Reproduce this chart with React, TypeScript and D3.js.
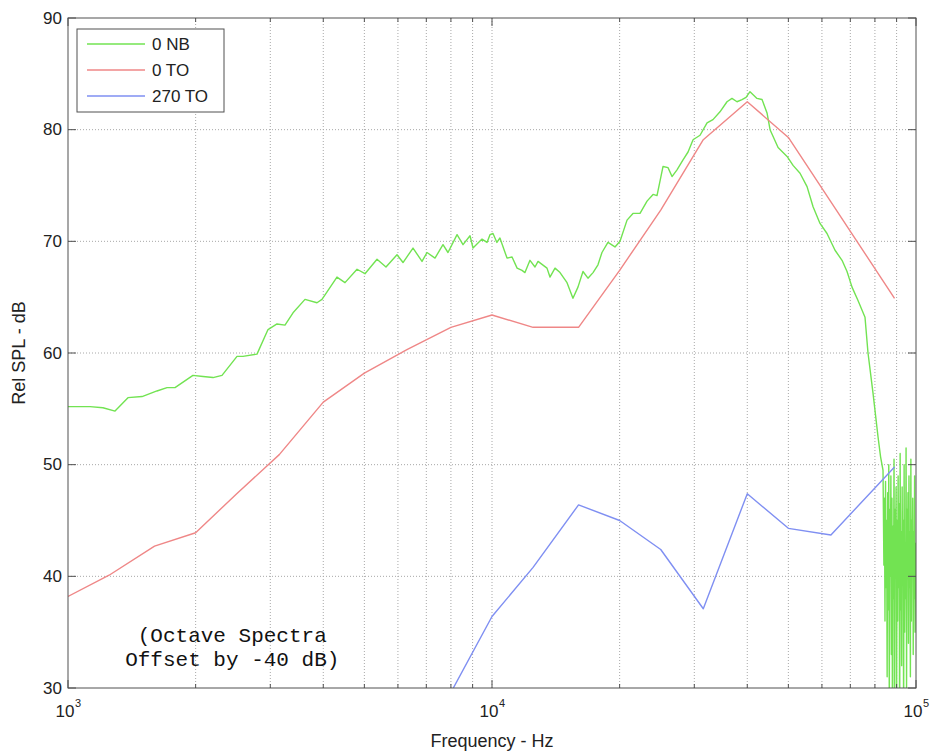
import React from "react";
import * as d3 from "d3";

// 0 NB (narrowband)
const nbFreq = [
  1000, 1127, 1209, 1291, 1385, 1495, 1621, 1712, 1788, 1971, 2082, 2198, 2308, 2504, 2587, 2791,
  2963, 3111, 3249, 3394, 3622, 3866, 3972, 4309, 4501, 4805, 5017, 5356, 5623, 5970, 6168, 6512,
  6838, 7026, 7338, 7663, 7874, 8271, 8544, 8875, 9020, 9472, 9732, 9892, 10055, 10270, 10440,
  10850, 11150, 11460, 11770, 11960, 12290, 12630, 12840, 13480, 13700, 14080, 14470, 15030, 15520,
  15950, 16390, 16840, 17310, 17780, 18170, 18770, 19500, 20040, 20820, 21500, 22340, 23210, 23980,
  24500, 25310, 26010, 26580, 27310, 28220, 29000, 29800, 30950, 32150, 33200, 34490, 35830, 36810,
  37830, 38870, 39730, 40600, 42170, 43340, 44530, 45270, 47280, 49650, 51290, 53270, 55340, 57180,
  59380, 61680, 64420, 66920, 68760, 70650, 72980, 75810, 77060, 79180, 81360, 82500, 83600,
  84000, 84250, 84500, 84750, 85000, 85250, 85500, 85750, 86000, 86250, 86500, 86750, 87000, 87250,
  87500, 87750, 88000, 88250, 88500, 88750, 89000, 89250, 89500, 89750, 90000, 90250, 90500, 90750,
  91000, 91250, 91500, 91750, 92000, 92250, 92500, 92750, 93000, 93250, 93500, 93750, 94000, 94250,
  94500, 94750, 95000, 95250, 95500, 95750, 96000, 96250, 96500, 96750, 97000, 97250, 97500, 97750,
  98000, 98250, 98500, 98750, 99000, 99250, 99500, 99750, 100000,
];
const nbDb = [
  55.2, 55.2, 55.1, 54.8, 56.0, 56.1, 56.6, 56.9, 56.9, 58.0, 57.9, 57.8, 58.0, 59.7, 59.7, 59.9,
  62.1, 62.6, 62.5, 63.6, 64.8, 64.5, 64.8, 66.8, 66.3, 67.5, 67.1, 68.4, 67.7, 68.8, 68.1, 69.4,
  68.2, 69.0, 68.5, 69.7, 69.0, 70.6, 69.7, 70.5, 69.4, 70.2, 69.9, 70.6, 70.7, 69.9, 70.3,
  68.5, 68.6, 67.6, 67.4, 67.2, 68.3, 67.7, 68.2, 67.6, 66.8, 67.6, 67.2, 66.3, 64.9,
  65.9, 67.3, 66.7, 67.2, 67.9, 69.0, 69.9, 69.5, 70.0, 71.9, 72.5, 72.5, 73.6, 74.2,
  74.1, 76.7, 76.6, 75.8, 76.4, 77.3, 78.0, 79.1, 79.5, 80.6, 80.9, 81.6, 82.5, 82.8,
  82.5, 82.7, 82.9, 83.4, 82.8, 82.7, 81.5, 80.0, 78.4, 77.6, 76.8, 76.1, 74.9,
  73.1, 71.6, 70.7, 69.2, 68.3, 67.3, 65.9, 64.7, 63.2, 60.0, 56.4, 52.5, 50.7,
  49.5, 41, 47, 36, 48.5, 39, 45, 31, 47.5, 37, 50, 28, 46, 40,
  49, 33, 47, 25, 44.5, 38, 50.5, 29, 46, 41, 48, 27, 45, 36,
  49, 39, 46.5, 24, 51, 37, 44, 32, 48, 40, 45, 27, 50, 35,
  43, 38, 51.5, 30, 46, 41, 47.5, 34, 49, 39, 44, 31, 50.5, 36,
  45, 40, 47, 33, 44, 38, 49, 35, 43,
];

// octave spectra, offset by -40 dB
const toFreq = [
  1000, 1250, 1600, 2000, 2500, 3150, 4000, 5000, 6300, 8000, 10000, 12500, 16000, 20000, 25000,
  31500, 40000, 50000, 89000,
];
const to0Db = [
  38.2, 40.1, 42.7, 43.9, 47.4, 50.9, 55.6, 58.2, 60.3, 62.3, 63.4, 62.3, 62.3, 67.4, 72.8, 79.1,
  82.5, 79.3, 64.9,
];
const to270Freq = [8000, 10000, 12500, 16000, 20000, 25000, 31500, 40000, 50000, 63000, 89000];
const to270Db = [29.6, 36.4, 40.8, 46.4, 45.0, 42.4, 37.1, 47.4, 44.3, 43.7, 49.8];

const yTicks = [30, 40, 50, 60, 70, 80, 90];
const decades = [3, 4, 5];
const noteLines = ["(Octave Spectra", "Offset by -40 dB)"];

const series = [
  { name: "0 NB", freq: nbFreq, db: nbDb, color: "#72e352" },
  { name: "0 TO", freq: toFreq, db: to0Db, color: "#ef8787" },
  { name: "270 TO", freq: to270Freq, db: to270Db, color: "#7f8ff2" },
];

const W = 933;
const H = 754;
const margin = { left: 68, right: 17, top: 18, bottom: 66 };
const font = "'Liberation Sans', Arial, Helvetica, sans-serif";

export default function App() {
  const iw = W - margin.left - margin.right;
  const ih = H - margin.top - margin.bottom;

  const x = d3.scaleLog().domain([1e3, 1e5]).range([0, iw]);
  const y = d3.scaleLinear().domain([30, 90]).range([ih, 0]);

  const minor: number[] = [];
  for (let d = 3; d < 5; d++) {
    for (let k = 2; k <= 9; k++) minor.push(k * Math.pow(10, d));
  }

  const line = d3
    .line<[number, number]>()
    .x((d) => x(d[0]))
    .y((d) => y(d[1]));

  const axisColor = "#505050";
  const gridColor = "#a8a8a8";
  const noteX = x(2440);

  return (
    <svg
      width={W}
      height={H}
      style={{ position: "absolute", left: 0, top: 0, background: "#fff" }}
      fontFamily={font}
    >
      <defs>
        <clipPath id="plot">
          <rect x={0} y={0} width={iw} height={ih} />
        </clipPath>
      </defs>
      <g transform={`translate(${margin.left},${margin.top})`}>
        {/* grid */}
        {[...minor, 1e4].map((f) => (
          <line
            key={"gx" + f}
            x1={x(f)}
            x2={x(f)}
            y1={0}
            y2={ih}
            stroke={gridColor}
            strokeDasharray="1 2"
          />
        ))}
        {yTicks.slice(1, -1).map((v) => (
          <line
            key={"gy" + v}
            x1={0}
            x2={iw}
            y1={y(v)}
            y2={y(v)}
            stroke={gridColor}
            strokeDasharray="1 2"
          />
        ))}

        {/* data */}
        <g clipPath="url(#plot)">
          {series.map((s) => (
            <path
              key={s.name}
              d={line(s.freq.map((f, i) => [f, s.db[i]] as [number, number])) || ""}
              fill="none"
              stroke={s.color}
              strokeWidth={1.4}
              strokeLinejoin="round"
            />
          ))}
        </g>

        {/* frame */}
        <rect x={0} y={0} width={iw} height={ih} fill="none" stroke={axisColor} strokeWidth={1} />

        {/* ticks */}
        {yTicks.map((v) => (
          <g key={"ty" + v}>
            <line x1={0} x2={8} y1={y(v)} y2={y(v)} stroke={axisColor} />
            <line x1={iw - 8} x2={iw} y1={y(v)} y2={y(v)} stroke={axisColor} />
            <text
              x={-6}
              y={y(v)}
              textAnchor="end"
              dominantBaseline="central"
              fontSize={17}
              fill="#222"
            >
              {v}
            </text>
          </g>
        ))}
        {minor.map((f) => (
          <g key={"tm" + f}>
            <line x1={x(f)} x2={x(f)} y1={ih} y2={ih - 4} stroke={axisColor} />
            <line x1={x(f)} x2={x(f)} y1={0} y2={4} stroke={axisColor} />
          </g>
        ))}
        {decades.map((d) => (
          <g key={"td" + d}>
            <line x1={x(10 ** d)} x2={x(10 ** d)} y1={ih} y2={ih - 8} stroke={axisColor} />
            <line x1={x(10 ** d)} x2={x(10 ** d)} y1={0} y2={8} stroke={axisColor} />
            <text x={x(10 ** d) - 3} y={ih + 29} textAnchor="middle" fontSize={17} fill="#222">
              10
            </text>
            <text x={x(10 ** d) + 10} y={ih + 19} textAnchor="middle" fontSize={11} fill="#222">
              {d}
            </text>
          </g>
        ))}

        {/* legend */}
        <g transform="translate(9,11)">
          <rect x={0} y={0} width={147} height={83} fill="#fff" stroke={axisColor} />
          {series.map((s, i) => (
            <g key={"lg" + s.name} transform={`translate(0,${15 + i * 26})`}>
              <line x1={10} x2={68} y1={0} y2={0} stroke={s.color} strokeWidth={1.4} />
              <text x={75} y={0} dominantBaseline="central" fontSize={17} fill="#222">
                {s.name}
              </text>
            </g>
          ))}
        </g>

        {/* note */}
        <text
          textAnchor="middle"
          fontFamily="'Liberation Mono', 'Courier New', monospace"
          fontSize={21}
          fill="#111"
        >
          {noteLines.map((t, i) => (
            <tspan key={t} x={noteX} y={y(35) + 10 + i * 24}>
              {t}
            </tspan>
          ))}
        </text>

        {/* axis labels */}
        <text x={iw / 2} y={ih + 59} textAnchor="middle" fontSize={18} fill="#222">
          Frequency - Hz
        </text>
        <text
          transform={`translate(${-43},${ih / 2}) rotate(-90)`}
          textAnchor="middle"
          fontSize={18}
          fill="#222"
        >
          Rel SPL - dB
        </text>
      </g>
    </svg>
  );
}
